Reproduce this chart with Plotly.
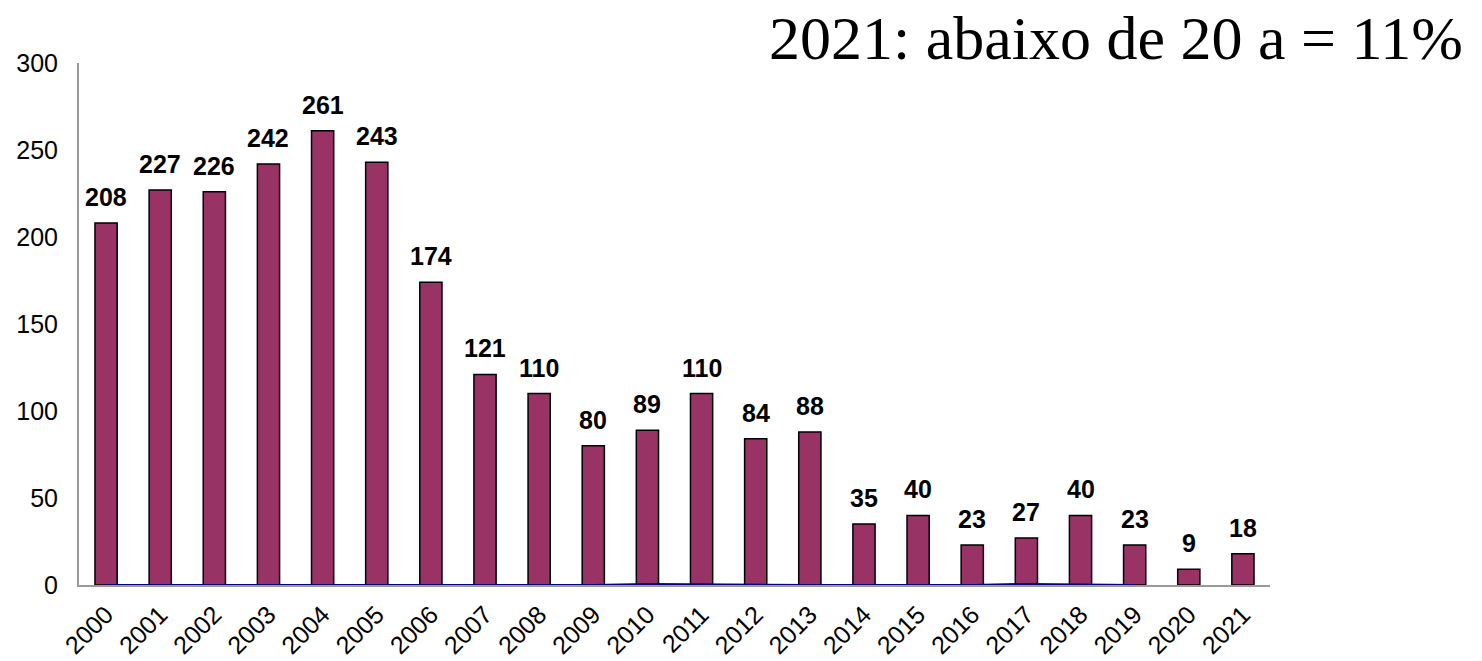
import plotly.graph_objects as go

years = [str(y) for y in range(2000, 2022)]
values = [208, 227, 226, 242, 261, 243, 174, 121, 110, 80, 89, 110, 84, 88, 35, 40, 23, 27, 40, 23, 9, 18]
line_years = [str(y) for y in range(2000, 2020)]
line_values = [0, 0, 0, 0, 0, 0, 0, 0, 0, 0, 0.6, 0.3, 0, 0, 0, 0, 0, 0.6, 0.3, 0]
y_ticks = [0, 50, 100, 150, 200, 250, 300]
title_text = "2021: abaixo de 20 a = 11%"

fig = go.Figure()
fig.add_trace(go.Bar(
    x=years, y=values, width=0.41,
    marker=dict(color="#993366", line=dict(color="#000000", width=1.5)),
    hoverinfo="x+y",
))
fig.add_trace(go.Scatter(
    x=line_years, y=line_values, mode="lines",
    line=dict(color="#000080", width=2), hoverinfo="skip",
))

annotations = [dict(
    x=i, y=v, xref="x", yref="y", text="<b>%d</b>" % v,
    showarrow=False, yanchor="middle", yshift=26,
    font=dict(family="Arial, Liberation Sans", size=25, color="#000000"),
) for i, v in enumerate(values)]

annotations.append(dict(
    text=title_text, xref="paper", yref="paper",
    x=1.164, y=1.048, xanchor="right", yanchor="middle",
    showarrow=False,
    font=dict(family="Liberation Serif, Times New Roman", size=62, color="#000000"),
))

fig.update_layout(
    width=1482, height=661,
    margin=dict(l=71, r=220, t=55, b=84, autoexpand=False),
    paper_bgcolor="white", plot_bgcolor="white",
    showlegend=False,
    font=dict(family="Arial, Liberation Sans", size=24, color="#000000"),
    xaxis=dict(
        type="category", range=[-0.5, 21.5], tickangle=-45,
        showline=True, linecolor="#999999", linewidth=2, automargin=False,
        showgrid=False, ticks="", tickfont=dict(size=25), ticklabelstandoff=3,
    ),
    yaxis=dict(
        range=[0, 300], tickvals=y_ticks, showline=True, automargin=False,
        linecolor="#999999", linewidth=2, showgrid=False,
        zeroline=False, ticks="", ticklabelstandoff=14,
        tickfont=dict(size=25),
    ),
    annotations=annotations,
)

fig.write_html("out.html")
